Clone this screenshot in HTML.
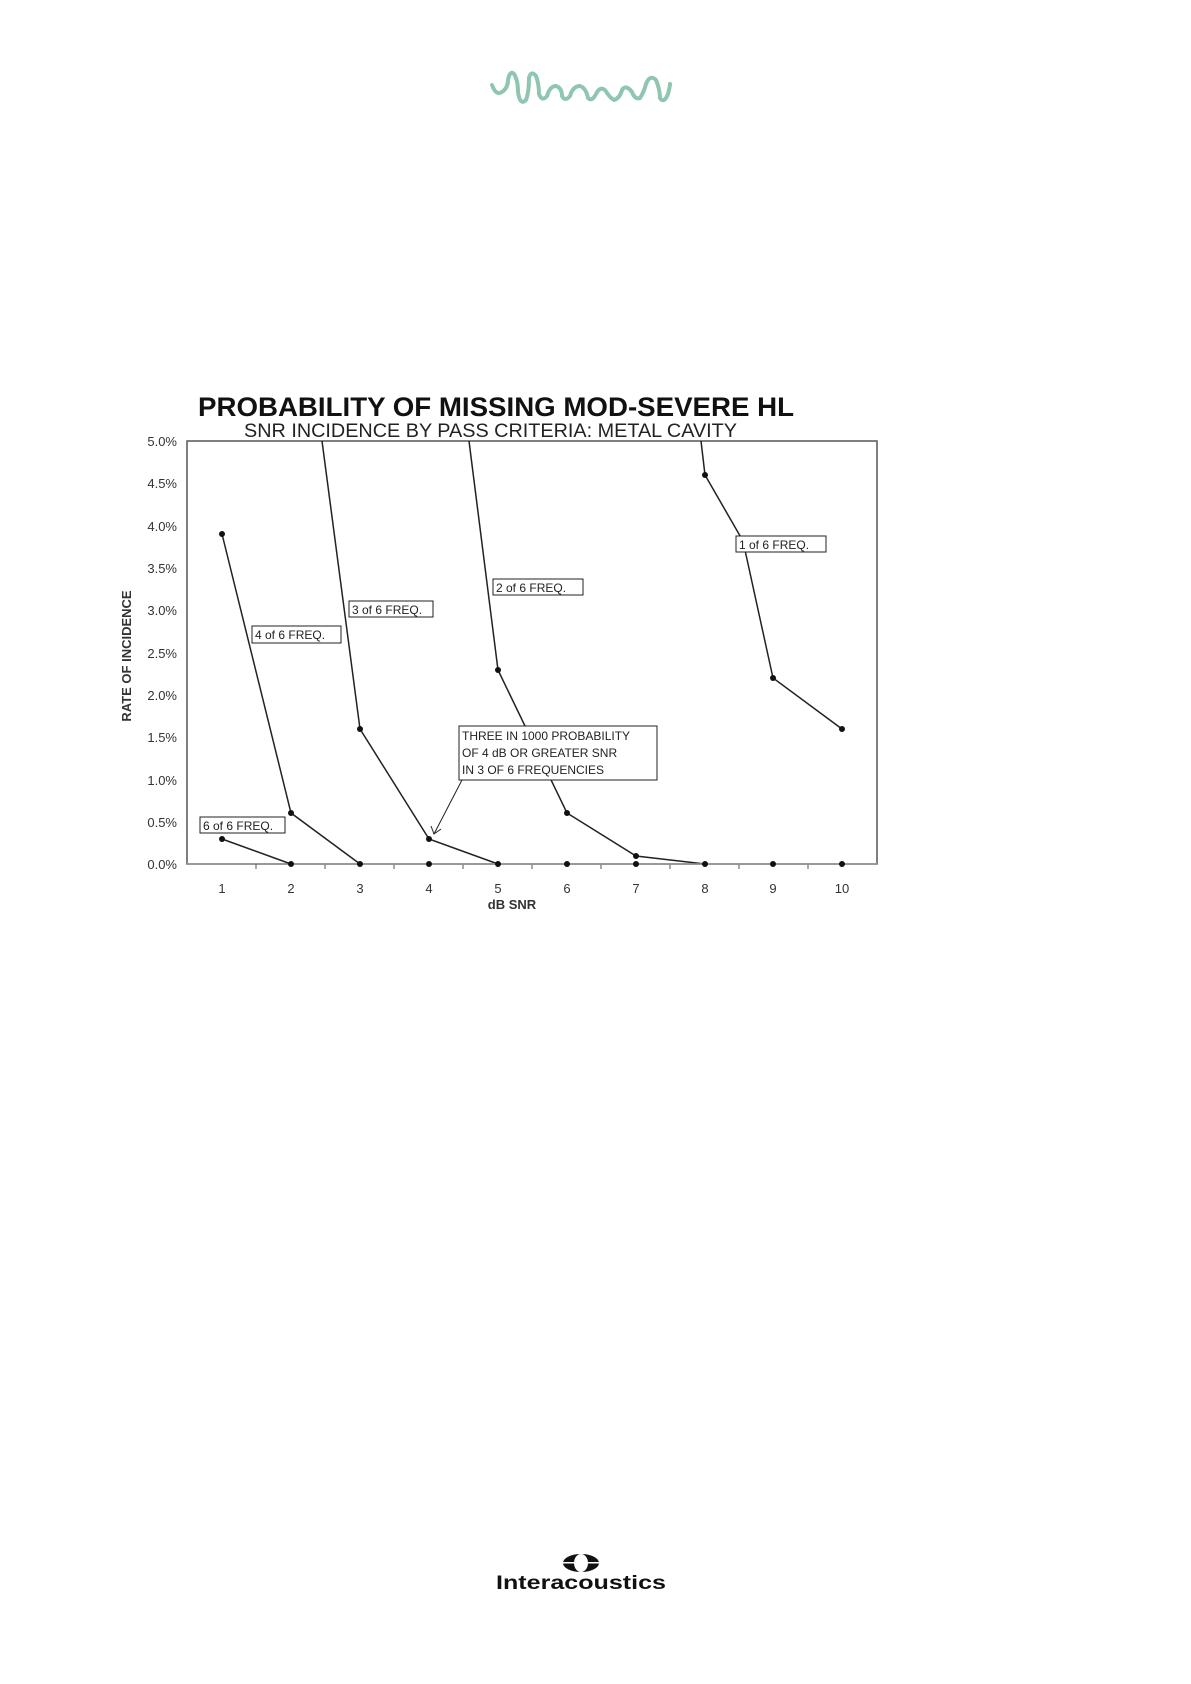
<!DOCTYPE html>
<html><head><meta charset="utf-8"><style>
html,body{margin:0;padding:0;background:#fff;}
svg{display:block;}
text{font-family:"Liberation Sans",sans-serif;}
</style></head><body>
<svg width="1191" height="1684" viewBox="0 0 1191 1684" xmlns="http://www.w3.org/2000/svg">
<rect width="1191" height="1684" fill="#fff"/>
<path d="M492,85 Q496,96 502,92 Q508,88 508,80 Q510,70 514,74 Q518,80 518,92 Q520,106 526,100 Q529,92 529,78 Q531,70 536,76 Q539,84 539,94 Q542,102 547,96 Q550,86 556,86 Q562,88 562,96 Q565,102 570,96 Q573,86 580,86 Q586,88 588,98 Q592,102 596,94 Q600,86 605,90 Q610,98 614,100 Q620,98 622,90 Q626,84 632,92 Q635,100 640,98 Q644,92 646,84 Q650,74 656,80 Q660,90 660,98 Q664,104 668,94 Q670,86 670,84" fill="none" stroke="#8fc6b0" stroke-width="4" stroke-linecap="round" stroke-linejoin="round"/>
<text x="198" y="416" font-size="27" font-weight="bold" fill="#111" textLength="596" lengthAdjust="spacingAndGlyphs">PROBABILITY OF MISSING MOD-SEVERE HL</text>
<text x="244" y="437" font-size="19" fill="#222" textLength="493" lengthAdjust="spacingAndGlyphs">SNR INCIDENCE BY PASS CRITERIA: METAL CAVITY</text>
<rect x="187" y="441" width="690" height="423" fill="none" stroke="#555" stroke-width="1.5"/>
<line x1="187" y1="864" x2="877" y2="864" stroke="#999" stroke-width="2"/>
<g font-size="13" fill="#333" text-anchor="end">
<text x="177" y="446">5.0%</text>
<text x="177" y="488">4.5%</text>
<text x="177" y="531">4.0%</text>
<text x="177" y="573">3.5%</text>
<text x="177" y="615">3.0%</text>
<text x="177" y="658">2.5%</text>
<text x="177" y="700">2.0%</text>
<text x="177" y="742">1.5%</text>
<text x="177" y="785">1.0%</text>
<text x="177" y="827">0.5%</text>
<text x="177" y="869">0.0%</text>
</g>
<g stroke="#555" stroke-width="1">
<line x1="256" y1="864" x2="256" y2="869"/><line x1="325" y1="864" x2="325" y2="869"/><line x1="394" y1="864" x2="394" y2="869"/><line x1="463" y1="864" x2="463" y2="869"/><line x1="532" y1="864" x2="532" y2="869"/><line x1="601" y1="864" x2="601" y2="869"/><line x1="670" y1="864" x2="670" y2="869"/><line x1="739" y1="864" x2="739" y2="869"/><line x1="808" y1="864" x2="808" y2="869"/>
</g>
<g font-size="13" fill="#333" text-anchor="middle">
<text x="222" y="893">1</text><text x="291" y="893">2</text><text x="360" y="893">3</text><text x="429" y="893">4</text><text x="498" y="893">5</text><text x="567" y="893">6</text><text x="636" y="893">7</text><text x="705" y="893">8</text><text x="773" y="893">9</text><text x="842" y="893">10</text>
<text x="512" y="909" font-weight="bold" font-size="13">dB SNR</text>
</g>
<text transform="translate(131,656) rotate(-90)" font-size="13" font-weight="bold" fill="#333" text-anchor="middle">RATE OF INCIDENCE</text>
<g fill="none" stroke="#222" stroke-width="1.5">
<polyline points="222,839 291,864"/>
<polyline points="222,534 291,813 360,864"/>
<polyline points="322,441 360,729 429,839 498,864"/>
<polyline points="469,441 498,670 567,813 636,856 705,864"/>
<polyline points="701,441 705,475 743,541 773,678 842,729"/>
<line x1="291" y1="864" x2="842" y2="864" stroke="#999"/>
</g>
<g fill="#111">
<circle cx="222" cy="839" r="3"/><circle cx="222" cy="534" r="3"/><circle cx="291" cy="813" r="3"/><circle cx="360" cy="729" r="3"/><circle cx="429" cy="839" r="3"/><circle cx="498" cy="670" r="3"/><circle cx="567" cy="813" r="3"/><circle cx="636" cy="856" r="3"/><circle cx="705" cy="475" r="3"/><circle cx="773" cy="678" r="3"/><circle cx="842" cy="729" r="3"/>
<circle cx="291" cy="864" r="3"/><circle cx="360" cy="864" r="3"/><circle cx="429" cy="864" r="3"/><circle cx="498" cy="864" r="3"/><circle cx="567" cy="864" r="3"/><circle cx="636" cy="864" r="3"/><circle cx="705" cy="864" r="3"/><circle cx="773" cy="864" r="3"/><circle cx="842" cy="864" r="3"/>
</g>
<g font-size="12" fill="#222">
<rect x="736" y="536" width="90" height="16" fill="#fff" stroke="#222"/><text x="739" y="549">1 of 6 FREQ.</text>
<rect x="493" y="579" width="90" height="16" fill="#fff" stroke="#222"/><text x="496" y="592">2 of 6 FREQ.</text>
<rect x="349" y="601" width="84" height="16" fill="#fff" stroke="#222"/><text x="352" y="614">3 of 6 FREQ.</text>
<rect x="252" y="626" width="89" height="17" fill="#fff" stroke="#222"/><text x="255" y="639">4 of 6 FREQ.</text>
<rect x="200" y="817" width="85" height="16" fill="#fff" stroke="#222"/><text x="203" y="830">6 of 6 FREQ.</text>
<rect x="459" y="726" width="198" height="54" fill="#fff" stroke="#222"/>
<text x="462" y="740">THREE IN 1000 PROBABILITY</text>
<text x="462" y="757">OF 4 dB OR GREATER SNR</text>
<text x="462" y="774">IN 3 OF 6 FREQUENCIES</text>
</g>
<line x1="462" y1="780" x2="434" y2="834" stroke="#222" stroke-width="1"/>
<polyline points="431,826 434,834 441,829" fill="none" stroke="#222" stroke-width="1"/>
<ellipse cx="581" cy="1563" rx="18" ry="9" fill="#111"/>
<ellipse cx="581" cy="1563" rx="7" ry="9" fill="#fff"/>
<rect x="563" y="1562" width="36" height="1.5" fill="#fff"/>
<text x="581" y="1589" font-size="19" font-weight="bold" fill="#111" text-anchor="middle" textLength="170" lengthAdjust="spacingAndGlyphs">Interacoustics</text>
</svg>
</body></html>
